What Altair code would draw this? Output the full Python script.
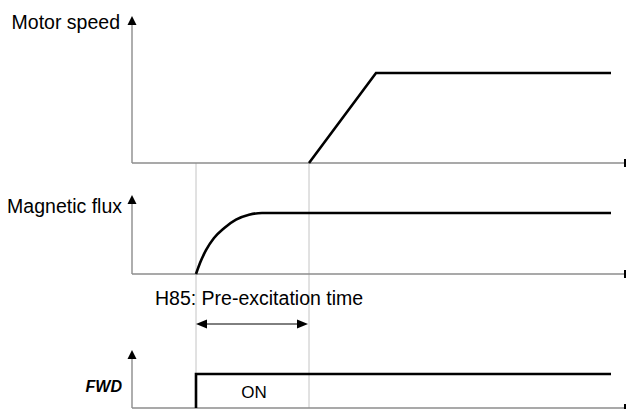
import altair as alt
import pandas as pd

# ---- values (time units on a common horizontal axis) ----
T_ON = 1.28      # FWD switched on, pre-excitation starts
T_RUN = 3.54     # pre-excitation ends, motor starts accelerating
T_TOP = 4.88     # motor reaches set speed
T_END = 9.58     # end of drawn signals
T_AXIS = 9.86    # end of the time axes

speed_t = [T_RUN, T_TOP, T_END]
speed_v = [0.0, 1.0, 1.0]
flux_t = [1.28, 1.36, 1.48, 1.64, 1.84, 2.08, 2.34, 2.60, 9.58]
flux_v = [0.0, 0.18, 0.39, 0.59, 0.75, 0.89, 0.97, 1.0, 1.0]
fwd_t = [T_ON, T_ON, T_END]
fwd_v = [0.0, 1.0, 1.0]

signals = ["speed", "flux", "fwd"]
panel_labels = ["Motor speed", "Magnetic flux", "FWD"]
span_label = "H85: Pre-excitation time"
on_label = "ON"

# ---- layout (page rows in px, px per time unit) ----
PX = 50.0
X_ORIGIN = 132
BASE = {"speed": 163, "flux": 274, "fwd": 408}
AMP = {"speed": 90, "flux": 61, "fwd": 34}
AXTOP = {"speed": 16, "flux": 195, "fwd": 350}
EVENT_TOP, EVENT_BOTTOM = 163, 408
SPAN_ROW = 324

W, H = 619, 401
xdom = [(8 - X_ORIGIN) / PX, (8 + W - X_ORIGIN) / PX]
ydom = [8 + H, 8]

def px(d):
    return d / PX

xs = alt.Scale(domain=xdom, nice=False, zero=False)
ys = alt.Scale(domain=ydom, nice=False, zero=False)

# signal lines
rows = []
for name, ts, vs in [("speed", speed_t, speed_v), ("flux", flux_t, flux_v), ("fwd", fwd_t, fwd_v)]:
    for i, (t, v) in enumerate(zip(ts, vs)):
        rows.append({"sig": name, "t": t, "r": BASE[name] - v * AMP[name], "o": i})
lines_df = pd.DataFrame(rows)

# axes
ax_rows = []
for s in signals:
    ax_rows.append({"t": 0.0, "t2": 0.0, "r": BASE[s], "r2": AXTOP[s] + 6})
    ax_rows.append({"t": 0.0, "t2": T_AXIS, "r": BASE[s], "r2": BASE[s]})
axes_df = pd.DataFrame(ax_rows)

ev_df = pd.DataFrame({"t": [T_ON, T_RUN], "r": [EVENT_TOP] * 2, "r2": [EVENT_BOTTOM] * 2})

tick_df = pd.DataFrame({"t": [T_AXIS] * 3,
                        "r": [BASE[s] - 4 for s in signals],
                        "r2": [BASE[s] + 4 for s in signals]})

span_df = pd.DataFrame({"t": [T_ON + px(4)], "t2": [T_RUN - px(6)], "r": [SPAN_ROW]})

UP = "M0,-1L-1,1L1,1Z"
LEFT = "M-1,0L1,-0.8L1,0.8Z"
RIGHT = "M1,0L-1,-0.8L-1,0.8Z"
heads_df = pd.DataFrame({
    "t": [0.0, 0.0, 0.0, T_ON + px(5.5), T_RUN - px(1) - px(5.5)],
    "r": [AXTOP[s] + 4.5 for s in signals] + [SPAN_ROW, SPAN_ROW],
    "shape": [UP, UP, UP, LEFT, RIGHT],
    "size": [81, 81, 81, 121, 121],
})

FONT = "Liberation Sans"

step_lines = alt.Chart(lines_df[lines_df.sig != "flux"]).mark_line(color="black", strokeWidth=2.6).encode(
    x=alt.X("t:Q", scale=xs, axis=None),
    y=alt.Y("r:Q", scale=ys, axis=None),
    detail="sig:N",
    order="o:Q",
)
flux_line = alt.Chart(lines_df[lines_df.sig == "flux"]).mark_line(color="black", strokeWidth=2.6, interpolate="monotone").encode(
    x=alt.X("t:Q", scale=xs, axis=None),
    y=alt.Y("r:Q", scale=ys, axis=None),
    order="o:Q",
)

axes = alt.Chart(axes_df).mark_rule(color="#8c8c8c", strokeWidth=1.4).encode(
    x=alt.X("t:Q", scale=xs, axis=None), x2="t2:Q",
    y=alt.Y("r:Q", scale=ys, axis=None), y2="r2:Q",
)
events = alt.Chart(ev_df).mark_rule(color="#c4c4c4", strokeWidth=1).encode(
    x=alt.X("t:Q", scale=xs, axis=None),
    y=alt.Y("r:Q", scale=ys, axis=None), y2="r2:Q",
)
ticks = alt.Chart(tick_df).mark_rule(color="black", strokeWidth=2).encode(
    x=alt.X("t:Q", scale=xs, axis=None),
    y=alt.Y("r:Q", scale=ys, axis=None), y2="r2:Q",
)
span = alt.Chart(span_df).mark_rule(color="black", strokeWidth=1).encode(
    x=alt.X("t:Q", scale=xs, axis=None), x2="t2:Q",
    y=alt.Y("r:Q", scale=ys, axis=None),
)
heads = alt.Chart(heads_df).mark_point(filled=True, color="black", opacity=1, strokeWidth=0).encode(
    x=alt.X("t:Q", scale=xs, axis=None),
    y=alt.Y("r:Q", scale=ys, axis=None),
    shape=alt.Shape("shape:N", scale=None),
    size=alt.Size("size:Q", scale=None),
)

def text_layer(df, align, italic=False, bold=False, size=19.5):
    kw = dict(align=align, baseline="middle", font=FONT, fontSize=size, color="black")
    if italic:
        kw["fontStyle"] = "italic"
    if bold:
        kw["fontWeight"] = "bold"
    return alt.Chart(df).mark_text(**kw).encode(
        x=alt.X("t:Q", scale=xs, axis=None),
        y=alt.Y("r:Q", scale=ys, axis=None),
        text="label:N",
    )

right_df = pd.DataFrame({"label": panel_labels[:2],
                         "t": [px(120 - X_ORIGIN), px(122 - X_ORIGIN)],
                         "r": [23, 207]})
fwd_df = pd.DataFrame({"label": [panel_labels[2]], "t": [px(122 - X_ORIGIN)], "r": [387]})
span_txt_df = pd.DataFrame({"label": [span_label], "t": [px(155 - X_ORIGIN)], "r": [299]})
on_df = pd.DataFrame({"label": [on_label], "t": [px(254 - X_ORIGIN)], "r": [393]})

chart = alt.layer(
    events, axes, ticks, span, heads, step_lines, flux_line,
    text_layer(right_df, "right"),
    text_layer(fwd_df, "right", italic=True, bold=True, size=16),
    text_layer(span_txt_df, "left"),
    text_layer(on_df, "center", size=17),
).properties(
    width=W, height=H, padding=0, autosize="none", background="white"
).configure_view(stroke=None)

chart.save("out.html", embed_options={"renderer": "svg", "actions": False})
